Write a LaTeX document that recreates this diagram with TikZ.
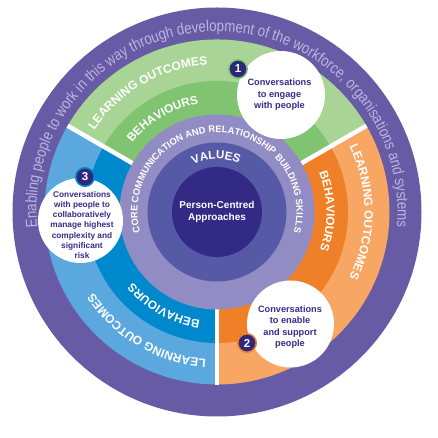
\documentclass[tikz,border=0pt]{standalone}
\usepackage{fontspec}
\setmainfont{Liberation Sans}
\newfontfamily\outerfont[FakeStretch=0.84]{Liberation Sans}
\usetikzlibrary{decorations.text}
\definecolor{outerpurple}{RGB}{104,91,166}
\definecolor{outertext}{RGB}{188,180,224}
\definecolor{greenlight}{RGB}{168,212,150}
\definecolor{greendark}{RGB}{128,195,112}
\definecolor{orangelight}{RGB}{248,166,100}
\definecolor{orangedark}{RGB}{240,128,40}
\definecolor{bluelight}{RGB}{90,168,222}
\definecolor{bluedark}{RGB}{0,136,204}
\definecolor{corering}{RGB}{146,140,196}
\definecolor{valuesring}{RGB}{86,90,166}
\definecolor{centredark}{RGB}{50,42,132}
\definecolor{badgefill}{RGB}{45,40,122}
\definecolor{convtext}{RGB}{55,42,140}
\begin{document}
\begin{tikzpicture}[
  arctext/.style={decorate, decoration={text along path, text align=center, text color=white, text={#1}}},
  outerarc/.style={decorate, decoration={text along path, text align=center, text color=outertext, text={#1}}},
  gap/.style={white, line width=4.5pt},
  convcircle/.style={circle, fill=white, inner sep=0pt, minimum size=#1},
  convlabel/.style={align=center, text=convtext, inner sep=0pt, font=\bfseries\fontsize{9.2}{11.4}\selectfont},
  badge/.style={circle, fill=badgefill, draw=#1, line width=1.5pt, minimum size=18.5pt, inner sep=0pt, text=white, font=\bfseries\fontsize{11.5}{12}\selectfont},
]
\useasboundingbox (-217pt,-226pt) rectangle (220pt,212pt);
% outer ring
\fill[outerpurple] (0,0) circle[radius=204.5pt];
% learning outcome sectors
\fill[greenlight] (0,0) -- (30:172.5pt) arc[start angle=30, end angle=150, radius=172.5pt] -- cycle;
\fill[orangelight] (0,0) -- (-90:172.5pt) arc[start angle=-90, end angle=30, radius=172.5pt] -- cycle;
\fill[bluelight] (0,0) -- (150:172.5pt) arc[start angle=150, end angle=270, radius=172.5pt] -- cycle;
% behaviour sectors
\fill[greendark] (0,0) -- (30:131pt) arc[start angle=30, end angle=150, radius=131pt] -- cycle;
\fill[orangedark] (0,0) -- (-90:131pt) arc[start angle=-90, end angle=30, radius=131pt] -- cycle;
\fill[bluedark] (0,0) -- (150:131pt) arc[start angle=150, end angle=270, radius=131pt] -- cycle;
% gaps
\draw[gap] (0,0) -- (30:172.5pt);
\draw[gap] (0,0) -- (150:172.5pt);
\draw[gap] (0,0) -- (270:172.5pt);
% inner rings
\fill[corering] (0,0) circle[radius=97.5pt];
\fill[valuesring] (0,0) circle[radius=69.5pt];
\fill[centredark] (0,0) circle[radius=45pt];
\node[align=center, text=white, inner sep=0pt, font=\bfseries\fontsize{10}{11.7}\selectfont] (centre) at (0,0) {Person-Centred\\Approaches};
% outer text
\path[outerarc={|\outerfont\fontsize{15.8}{18}\selectfont|Enabling people to work in this way through development of the workforce, organisations and systems}]
  (200:180.5pt) arc[start angle=200, end angle=-20, radius=180.5pt];
% learning outcomes
\path[arctext={|\bfseries\fontsize{12}{14}\selectfont|LEARNING OUTCOMES}]
  (160:147.5pt) arc[start angle=160, end angle=80, radius=147.5pt];
\path[arctext={|\bfseries\fontsize{12}{14}\selectfont|LEARNING OUTCOMES}]
  (40:147.5pt) arc[start angle=40, end angle=-40, radius=147.5pt];
\path[arctext={|\bfseries\fontsize{12}{14}\selectfont|LEARNING OUTCOMES}]
  (279.5:147.5pt) arc[start angle=279.5, end angle=199.5, radius=147.5pt];
% behaviours
\path[arctext={|\bfseries\fontsize{11.8}{14}\selectfont|BEHAVIOURS}]
  (150.25:109.5pt) arc[start angle=150.25, end angle=90.25, radius=109.5pt];
\path[arctext={|\bfseries\fontsize{11.8}{14}\selectfont|BEHAVIOURS}]
  (30.5:109.5pt) arc[start angle=30.5, end angle=-29.5, radius=109.5pt];
\path[arctext={|\bfseries\fontsize{11.8}{14}\selectfont|BEHAVIOURS}]
  (270.5:109.5pt) arc[start angle=270.5, end angle=210.5, radius=109.5pt];
% core skills
\path[arctext={|\bfseries\fontsize{9.4}{10}\selectfont|CORE COMMUNICATION AND RELATIONSHIP BUILDING SKILLS}]
  (210:79.5pt) arc[start angle=210, end angle=-30, radius=79.5pt];
% values
\path[arctext={|\bfseries\fontsize{11.6}{13}\selectfont|VALUES}]
  (121:53pt) arc[start angle=121, end angle=61, radius=53pt];
% conversation circles
\node[convcircle=88pt] (c1) at (64pt,117pt) {};
\node[convcircle=87pt] (c2) at (73.5pt,-112pt) {};
\node[convcircle=85pt] (c3) at (-136.5pt,-8.5pt) {};
\node[convlabel] (t1) at (62.5pt,117pt) {Conversations\\to engage\\with people};
\node[convlabel] (t2) at (73pt,-115pt) {Conversations\\to enable\\and support\\people};
\node[convlabel, font=\bfseries\fontsize{8.3}{10.2}\selectfont] (t3) at (-135pt,-13pt) {Conversations\\with people to\\collaboratively\\manage highest\\complexity and\\significant\\risk};
\node[badge=greendark] (b1) at (21pt,143pt) {1};
\node[badge=orangedark] (b2) at (30pt,-131pt) {2};
\node[badge=bluedark] (b3) at (-132pt,35pt) {3};
\end{tikzpicture}
\end{document}
